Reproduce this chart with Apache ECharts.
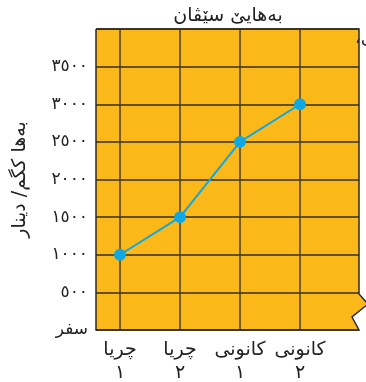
<!DOCTYPE html>
<html>
<head>
<meta charset="utf-8">
<script src="https://cdn.jsdelivr.net/npm/echarts@6/dist/echarts.min.js"></script>
<style>
html,body{margin:0;padding:0;background:#fff;}
#chart{width:366px;height:382px;}
</style>
</head>
<body>
<div id="chart"></div>
<script>
const titleText = 'بەهایێ سێڤان';
const yAxisName = 'بەها كگم/ دینار';
const categories = ['چریا\n١', 'چریا\n٢', 'کانونی\n١', 'کانونی\n٢'];
const prices = [1000, 1500, 2500, 3000];
const yTickLabels = ['سفر', '٥٠٠', '١٠٠٠', '١٥٠٠', '٢٠٠٠', '٢٥٠٠', '٣٠٠٠', '٣٥٠٠', ''];

const ORANGE = '#FBB819';
const DARK = '#2f2a20';
const BLUE = '#10A8E4';
const FONT = 'DejaVu Sans';

const chart = echarts.init(document.getElementById('chart'), null, {renderer: 'canvas'});
chart.setOption({
  animation: false,
  backgroundColor: '#ffffff',
  title: {
    text: titleText,
    left: 223, top: 2, textAlign: 'center',
    textStyle: {fontFamily: FONT, fontSize: 19, fontWeight: 'normal', color: '#222'}
  },
  grid: [
    {left: 120, right: 66, top: 29, bottom: 52, containLabel: false, outerBoundsMode: 'none'},
    {left: 96, right: 7, top: 29, bottom: 52, containLabel: false, outerBoundsMode: 'none', show: true, backgroundColor: ORANGE, borderWidth: 0, z: -1}
  ],
  xAxis: [
    {
      gridIndex: 0, type: 'category', data: categories, boundaryGap: false,
      axisLine: {show: false}, axisTick: {show: false},
      splitLine: {show: true, lineStyle: {color: '#4a3e26', width: 1.5}},
      axisLabel: {interval: 0, margin: 9, lineHeight: 23, fontFamily: FONT, fontSize: 19, color: '#222'}
    },
    {gridIndex: 1, type: 'value', show: false, min: 0, max: 1}
  ],
  yAxis: [
    {gridIndex: 0, type: 'value', min: 0, max: 4000, show: false},
    {
      gridIndex: 1, type: 'value', min: 0, max: 4000, interval: 500,
      axisLine: {show: false}, axisTick: {show: false},
      splitLine: {show: true, lineStyle: {color: '#332e22', width: 1.5}},
      axisLabel: {
        margin: 8, fontFamily: FONT, fontSize: 17, color: '#222', padding: [0, 0, 8, 0],
        formatter: function (v) { return yTickLabels[Math.round(v / 500)] || ''; }
      },
      name: yAxisName, nameLocation: 'middle', nameGap: 66, nameRotate: 90,
      nameTextStyle: {fontFamily: FONT, fontSize: 19, color: '#222'}
    }
  ],
  graphic: [
    {type: 'polygon', z: 5, silent: true, shape: {points: [[368, 304], [352, 317], [359, 330], [368, 331]]}, style: {fill: '#ffffff'}},
    {type: 'polygon', z: 5, silent: true, shape: {points: [[358, 294], [368, 304], [359, 311.3]]}, style: {fill: ORANGE}},
    {type: 'polyline', z: 6, silent: true, shape: {points: [[96, 29], [359, 29], [359, 294], [368, 304], [352, 317], [359, 330], [96, 330], [96, 29]]}, style: {stroke: DARK, lineWidth: 1.5, fill: null}},
    {type: 'text', z: 6, silent: true, left: 355, top: 29, style: {text: '،ی', font: '18px "DejaVu Sans"', fill: '#222'}}
  ],
  series: [{
    type: 'line', xAxisIndex: 0, yAxisIndex: 0, data: prices, z: 10,
    symbol: 'circle', symbolSize: 12,
    lineStyle: {color: BLUE, width: 2}, itemStyle: {color: BLUE}
  }]
});
</script>
</body>
</html>
